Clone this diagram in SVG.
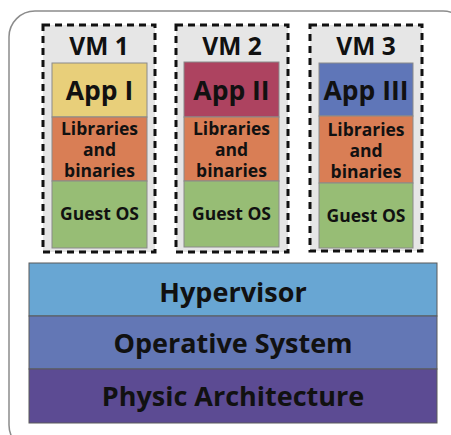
<svg xmlns="http://www.w3.org/2000/svg" width="451" height="435" viewBox="0 0 451 435">
  <style>
    text { font-family: "Open Sans", "Liberation Sans", sans-serif; font-weight: 700; fill: #111; text-anchor: middle; }
    .vm { fill: #e6e6e6; stroke: #111; stroke-width: 3; stroke-dasharray: 7 5; }
    .cell { stroke: #8a8a8a; stroke-width: 1; }
    .app1 { fill: #e8cf7a; }
    .app2 { fill: #ad4360; }
    .app3 { fill: #5f76b8; }
    .lib { fill: #d97e55; }
    .os { fill: #97bd75; }
    .layer { stroke: #5a5a5a; stroke-width: 1; }
    .vmt { font-size: 24.5px; }
    .appt { font-size: 26.5px; }
    .libt { font-size: 17.5px; }
    .layt { font-size: 27px; }
  </style>
  <rect x="9" y="11" width="460" height="440" rx="26" fill="#fff" stroke="#8c8c8c" stroke-width="1.5"/>

  <g id="vm1">
    <rect class="vm" x="43" y="25" width="112" height="227"/>
    <text class="vmt" x="99" y="55">VM 1</text>
    <rect class="cell app1" x="52" y="63" width="95" height="54"/>
    <text class="appt" x="99.5" y="100">App I</text>
    <rect class="cell lib" x="52" y="117" width="95" height="64"/>
    <text class="libt" x="99.5" y="135">Libraries<tspan x="99.5" dy="21">and</tspan><tspan x="99.5" dy="21">binaries</tspan></text>
    <rect class="cell os" x="52" y="181" width="95" height="67"/>
    <text class="libt" x="99.5" y="220">Guest OS</text>
  </g>

  <g id="vm2">
    <rect class="vm" x="176" y="25" width="112" height="227"/>
    <text class="vmt" x="232" y="55">VM 2</text>
    <rect class="cell app2" x="184" y="62" width="95" height="55"/>
    <text class="appt" x="231.5" y="100">App II</text>
    <rect class="cell lib" x="184" y="117" width="95" height="64"/>
    <text class="libt" x="231.5" y="135">Libraries<tspan x="231.5" dy="21">and</tspan><tspan x="231.5" dy="21">binaries</tspan></text>
    <rect class="cell os" x="184" y="181" width="95" height="66"/>
    <text class="libt" x="231.5" y="220">Guest OS</text>
  </g>

  <g id="vm3">
    <rect class="vm" x="310" y="25" width="112" height="226"/>
    <text class="vmt" x="366" y="55">VM 3</text>
    <rect class="cell app3" x="319" y="63" width="94" height="53"/>
    <text class="appt" x="366" y="100">App III</text>
    <rect class="cell lib" x="319" y="116" width="94" height="67"/>
    <text class="libt" x="366" y="136">Libraries<tspan x="366" dy="21">and</tspan><tspan x="366" dy="21">binaries</tspan></text>
    <rect class="cell os" x="319" y="183" width="94" height="65"/>
    <text class="libt" x="366" y="222">Guest OS</text>
  </g>

  <g id="hypervisor">
    <rect class="layer" x="29" y="263" width="408" height="53" fill="#68a6d3"/>
    <text class="layt" x="233" y="302">Hypervisor</text>
  </g>
  <g id="operative-system">
    <rect class="layer" x="29" y="316" width="408" height="53" fill="#6377b5"/>
    <text class="layt" x="233" y="353">Operative System</text>
  </g>
  <g id="physic-architecture">
    <rect class="layer" x="29" y="369" width="408" height="54" fill="#5c4b93"/>
    <text class="layt" x="233" y="406">Physic Architecture</text>
  </g>

  <g id="connectors"></g>
</svg>
